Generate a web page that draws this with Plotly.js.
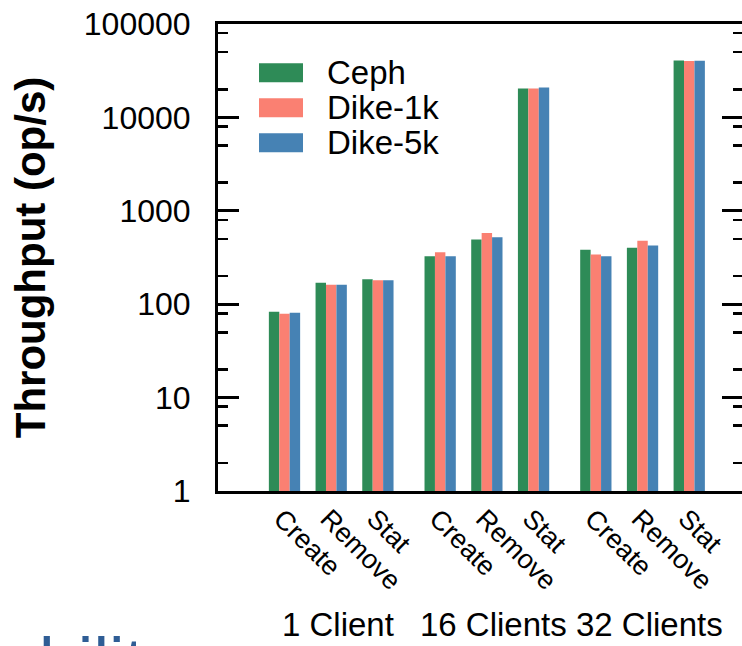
<!DOCTYPE html>
<html>
<head>
<meta charset="utf-8">
<script src="https://cdn.plot.ly/plotly-3.0.1.min.js"></script>
<style>
  html, body { margin: 0; padding: 0; background: #fff; overflow: hidden; }
  #chart { width: 746px; height: 646px; }
</style>
</head>
<body>
<div id="chart"></div>
<script>
// ---- data ----
const categories = ['Create', 'Remove', 'Stat'];
const groups = ['1 Client', '16 Clients', '32 Clients'];
const seriesNames = ['Ceph', 'Dike-1k', 'Dike-5k'];
const ceph   = [83, 170, 185,   326, 493, 20400,   383, 402, 40750];
const dike1k = [79, 162, 180,   360, 577, 20400,   341, 478, 40100];
const dike5k = [81, 162, 180,   326, 522, 20900,   326, 425, 40400];
const yTickVals = [1, 10, 100, 1000, 10000, 100000];
const yTickText = ['1', '10', '100', '1000', '10000', '100000'];
const colors = ['#2e8b57', '#fa8072', '#4682b4'];

// ---- layout helpers ----
const groupStep = 10 / 3;
const xPos = [];
const xText = [];
groups.forEach((g, gi) => categories.forEach((c, ci) => { xPos.push(gi * groupStep + ci); xText.push(c); }));

const minorVals = [];
for (let d = 1; d < 100000; d *= 10) { minorVals.push(2 * d, 5 * d, 8 * d); }

const W = 746, H = 646;
const M = { l: 218, r: 3, t: 24, b: 155 };
const PW = W - M.l - M.r, PH = H - M.t - M.b;
const px = x => (x - M.l) / PW;
const py = y => (H - M.b - y) / PH;

const allSeries = [ceph, dike1k, dike5k];
const traces = allSeries.map((vals, k) => ({
  type: 'bar',
  name: seriesNames[k],
  x: xPos,
  y: vals,
  marker: { color: colors[k], line: { width: 0 } },
  hoverinfo: 'x+y+name'
}));

const shapes = [];
const annotations = [];
seriesNames.forEach((n, k) => {
  const cy = 72.7 + 35 * k;
  shapes.push({ type: 'rect', xref: 'paper', yref: 'paper',
    x0: px(259), x1: px(303), y0: py(cy + 9.5), y1: py(cy - 9.5),
    fillcolor: colors[k], line: { width: 0 } });
  annotations.push({ xref: 'paper', yref: 'paper', x: px(325), y: py(cy),
    xanchor: 'left', yanchor: 'middle', text: n, showarrow: false,
    font: { size: 33, color: '#000' } });
});
groups.forEach((g, gi) => {
  annotations.push({ xref: 'x', yref: 'paper', x: gi * groupStep + 1, y: py(624),
    xanchor: 'center', yanchor: 'middle', xshift: 7, text: g, showarrow: false,
    font: { size: 33, color: '#000' } });
});
annotations.push({ xref: 'paper', yref: 'paper', x: px(-2), y: py(622),
  xanchor: 'left', yanchor: 'top', text: 'ability', showarrow: false,
  font: { size: 70, color: '#2f5d95' } });

const layout = {
  width: W, height: H,
  margin: M,
  barmode: 'group', bargap: 0.33, bargroupgap: 0,
  showlegend: false,
  paper_bgcolor: '#fff', plot_bgcolor: '#fff',
  font: { family: 'Liberation Sans, Arial, Helvetica, sans-serif', color: '#000' },
  xaxis: {
    range: [-(284.5 - 218) / 46.7, -(284.5 - 218) / 46.7 + PW / 46.7],
    tickmode: 'array', tickvals: xPos, ticktext: xText, tickangle: 45,
    ticks: '', showline: true, linewidth: 3, linecolor: '#000', mirror: true,
    showgrid: false, zeroline: false, tickfont: { size: 27 }, automargin: false,
    ticklabelstandoff: -2, ticklabelshift: -3
  },
  yaxis: {
    type: 'log', range: [0, 5],
    tickmode: 'array', tickvals: yTickVals, ticktext: yTickText,
    ticks: 'inside', ticklen: 21, tickwidth: 3, tickcolor: '#000',
    showline: true, linewidth: 3, linecolor: '#000', mirror: 'ticks',
    showgrid: false, zeroline: false, tickfont: { size: 32 },
    ticklabelstandoff: 18,
    minor: { tickmode: 'array', tickvals: minorVals, ticks: 'inside', ticklen: 10, tickwidth: 2.5, tickcolor: '#000', showgrid: false },
    title: { text: '<b>Throughput (op/s)</b>', font: { size: 42 }, standoff: 26 },
    automargin: false
  },
  shapes: shapes,
  annotations: annotations
};

Plotly.newPlot('chart', traces, layout, { displayModeBar: false, staticPlot: true });
</script>
</body>
</html>
